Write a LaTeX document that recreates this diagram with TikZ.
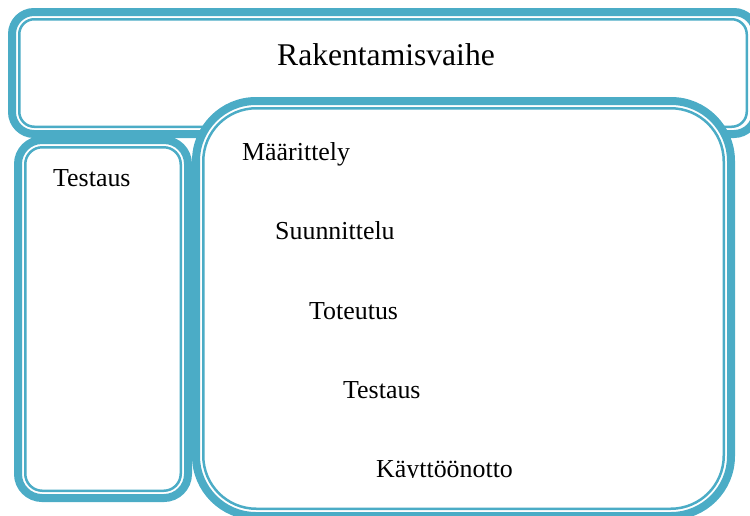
\documentclass[tikz,border=0pt]{standalone}
\usepackage{fontspec}
\setmainfont{Liberation Serif}
\definecolor{teal1}{HTML}{4BACC6}
\tikzset{
  thickband/.style={draw=teal1, line width=8pt, fill=white},
  thinband/.style={draw=teal1, line width=2.5pt},
  lbl/.style={anchor=base west, inner sep=0pt, font=\fontsize{25.9}{30}\selectfont},
  title/.style={anchor=base west, inner sep=0pt, font=\fontsize{31.6}{36}\selectfont}
}
\begin{document}
\begin{tikzpicture}[x=1pt,y=-1pt]
\useasboundingbox (0,0) rectangle (750,515);
\clip (0,0) rectangle (750,515);
% top box
\draw[thickband, rounded corners=22pt] (12,12) rectangle (756,134);
\draw[thinband, rounded corners=15pt] (19.25,19.25) rectangle (746.75,126.75);
% left box
\draw[thickband, rounded corners=24pt] (18,140) rectangle (188,498);
\draw[thinband, rounded corners=17pt] (25.25,147.25) rectangle (180.75,490.75);
% big box
\draw[thickband, rounded corners=60pt] (196,101) rectangle (731,516);
\draw[thinband, rounded corners=53pt] (203.25,108.25) rectangle (723.75,508.75);
% texts
\node[title] (t) at (277,65) {Rakentamisvaihe};
\node[lbl] (l) at (53,186) {Testaus};
\node[lbl] (a) at (242,160) {Määrittely};
\node[lbl] (b) at (275,239) {Suunnittelu};
\node[lbl] (c) at (309,319) {Toteutus};
\node[lbl] (d) at (343,398) {Testaus};
\begin{scope}
\clip (200,0) rectangle (720,477);
\node[lbl] (e) at (376,477) {Käyttöönotto};
\end{scope}
\end{tikzpicture}
\end{document}
